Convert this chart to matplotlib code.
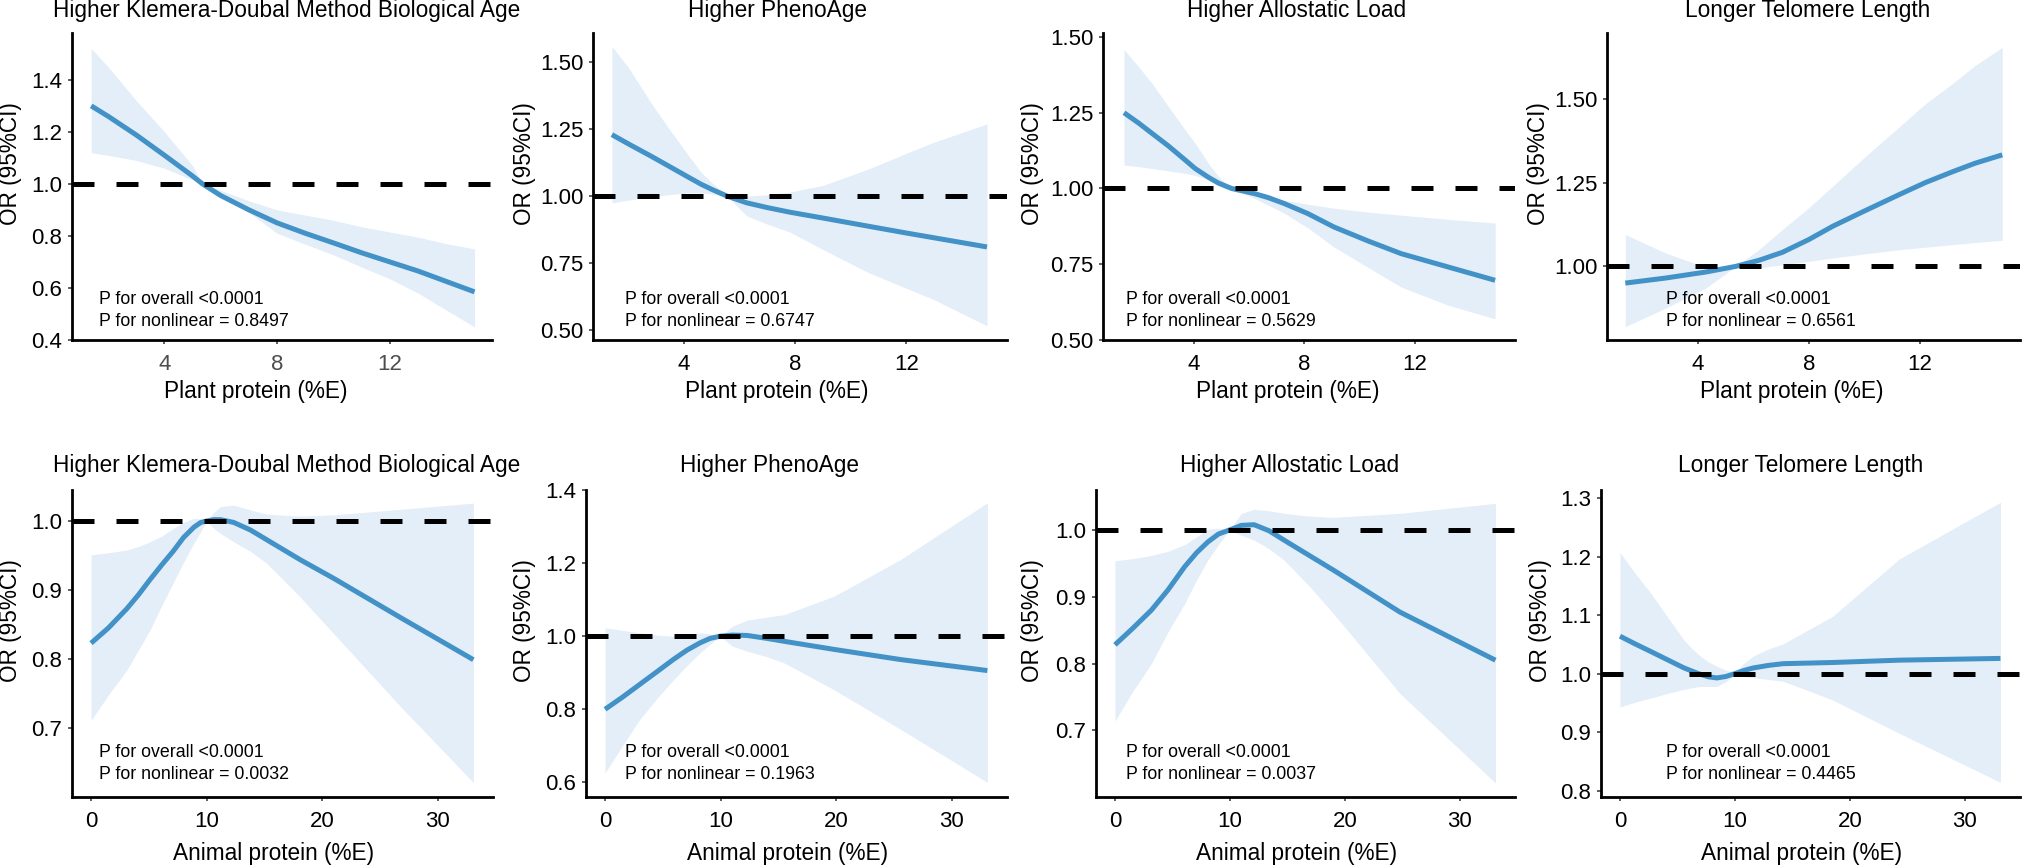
import matplotlib
matplotlib.use("Agg")
import matplotlib.pyplot as plt

plt.rcParams['font.family'] = ['Liberation Sans', 'DejaVu Sans']

# ---------------- data ----------------
titles_top = ["Higher Klemera-Doubal Method Biological Age", "Higher PhenoAge",
              "Higher Allostatic Load", "Longer Telomere Length"]
titles_bottom = titles_top
xlabel_top = "Plant protein (%E)"
xlabel_bottom = "Animal protein (%E)"
ylabel = "OR (95%CI)"

p_overall = ["<0.0001"] * 8
p_nonlinear = ["0.8497", "0.6747", "0.5629", "0.6561",
               "0.0032", "0.1963", "0.0037", "0.4465"]

# Plant protein panels
kdm_plant_x = [1.4, 2, 3, 4, 5, 5.35, 6, 7, 8, 9, 10, 11, 12, 13, 14, 15]
kdm_plant_or = [1.30, 1.26, 1.188, 1.11, 1.03, 1.0, 0.955, 0.90, 0.85, 0.81, 0.773, 0.735, 0.70, 0.665, 0.625, 0.585]
kdm_plant_hi = [1.52, 1.45, 1.32, 1.20, 1.07, 1.0, 0.975, 0.935, 0.90, 0.88, 0.86, 0.835, 0.815, 0.795, 0.77, 0.75]
kdm_plant_lo = [1.12, 1.11, 1.09, 1.06, 1.015, 1.0, 0.951, 0.89, 0.81, 0.768, 0.727, 0.68, 0.635, 0.58, 0.515, 0.45]

pheno_plant_x = [1.4, 2.0, 2.8, 3.4, 4.1, 4.6, 5.0, 5.55, 6.25, 7.0, 7.8, 9.0, 10.6, 12.0, 12.95, 14.9]
pheno_plant_or = [1.23, 1.195, 1.15, 1.115, 1.074, 1.045, 1.025, 1.0, 0.975, 0.957, 0.94, 0.918, 0.888, 0.862, 0.845, 0.81]
pheno_plant_hi = [1.56, 1.48, 1.35, 1.26, 1.16, 1.09, 1.05, 1.0, 1.0, 1.005, 1.015, 1.04, 1.10, 1.16, 1.20, 1.27]
pheno_plant_lo = [0.975, 0.985, 0.998, 1.005, 1.012, 1.012, 1.008, 1.0, 0.926, 0.895, 0.866, 0.80, 0.716, 0.655, 0.615, 0.515]

al_plant_x = [1.48, 2.02, 2.49, 3.09, 3.69, 4.05, 4.53, 4.89, 5.37, 6.2, 6.69, 7.28, 8.13, 9.07, 10.3, 11.5, 13.2, 14.9]
al_plant_or = [1.25, 1.215, 1.182, 1.14, 1.094, 1.066, 1.037, 1.018, 1.0, 0.983, 0.970, 0.95, 0.917, 0.873, 0.827, 0.785, 0.741, 0.697]
al_plant_hi = [1.459, 1.40, 1.347, 1.27, 1.193, 1.15, 1.083, 1.04, 1.0, 0.985, 0.975, 0.961, 0.948, 0.935, 0.922, 0.912, 0.898, 0.886]
al_plant_lo = [1.077, 1.072, 1.066, 1.058, 1.05, 1.043, 1.03, 1.018, 1.0, 0.967, 0.945, 0.918, 0.87, 0.807, 0.74, 0.675, 0.615, 0.57]

tl_plant_x = [1.38, 2.83, 4.28, 5.37, 6.2, 7.05, 8.0, 8.87, 10.0, 11.28, 12.2, 13.2, 14.0, 14.98]
tl_plant_or = [0.95, 0.965, 0.983, 1.0, 1.018, 1.042, 1.08, 1.12, 1.165, 1.215, 1.25, 1.283, 1.308, 1.333]
tl_plant_hi = [1.095, 1.04, 0.997, 1.0, 1.05, 1.11, 1.175, 1.24, 1.325, 1.418, 1.485, 1.547, 1.60, 1.654]
tl_plant_lo = [0.82, 0.875, 0.935, 1.0, 0.995, 1.005, 1.015, 1.025, 1.037, 1.05, 1.057, 1.065, 1.071, 1.078]

# Animal protein panels
kdm_anim_x = [0, 1.5, 3.1, 4.1, 5.1, 6.1, 7.1, 8.0, 8.9, 9.5, 10.0, 10.6, 11.2, 12.35, 13.8, 15.2, 18.1, 21.0, 26.8, 33.1]
kdm_anim_or = [0.823, 0.845, 0.873, 0.893, 0.915, 0.936, 0.956, 0.976, 0.991, 0.998, 1.0, 1.002, 1.002, 0.998, 0.987, 0.973, 0.944, 0.917, 0.860, 0.799]
kdm_anim_hi = [0.951, 0.954, 0.958, 0.963, 0.97, 0.978, 0.989, 0.998, 1.004, 1.003, 1.0, 1.012, 1.021, 1.023, 1.016, 1.01, 1.007, 1.009, 1.017, 1.026]
kdm_anim_lo = [0.711, 0.748, 0.784, 0.813, 0.842, 0.877, 0.91, 0.94, 0.968, 0.985, 1.0, 0.99, 0.982, 0.97, 0.956, 0.939, 0.89, 0.837, 0.731, 0.621]

pheno_anim_x = [0, 1.5, 3.0, 4.5, 5.9, 7.1, 8.24, 9.1, 9.97, 11.0, 12.3, 14.0, 15.5, 19.8, 25.6, 33.1]
pheno_anim_or = [0.80, 0.833, 0.868, 0.903, 0.936, 0.962, 0.982, 0.994, 1.0, 1.003, 1.002, 0.994, 0.986, 0.964, 0.936, 0.906]
pheno_anim_hi = [1.023, 1.016, 1.009, 1.003, 1.0, 1.005, 1.009, 1.006, 1.0, 1.027, 1.044, 1.052, 1.059, 1.109, 1.21, 1.365]
pheno_anim_lo = [0.626, 0.70, 0.772, 0.83, 0.88, 0.92, 0.955, 0.978, 1.0, 0.973, 0.959, 0.944, 0.927, 0.854, 0.745, 0.60]

al_anim_x = [0, 1.5, 3.17, 4.6, 6.06, 7.1, 8.07, 9.0, 9.95, 11.0, 12.1, 13.4, 14.7, 16.8, 19.0, 24.8, 33.1]
al_anim_or = [0.828, 0.852, 0.88, 0.91, 0.945, 0.966, 0.982, 0.994, 1.0, 1.007, 1.008, 0.999, 0.985, 0.963, 0.94, 0.877, 0.805]
al_anim_hi = [0.954, 0.957, 0.962, 0.968, 0.978, 0.99, 1.001, 1.003, 1.0, 1.025, 1.031, 1.029, 1.025, 1.021, 1.019, 1.025, 1.04]
al_anim_lo = [0.714, 0.757, 0.80, 0.847, 0.89, 0.925, 0.955, 0.978, 1.0, 0.992, 0.985, 0.972, 0.955, 0.918, 0.875, 0.755, 0.621]

tl_anim_x = [0, 1.3, 2.66, 4.1, 5.54, 6.3, 6.98, 7.7, 8.43, 9.2, 10.0, 10.8, 11.6, 12.9, 14.2, 18.5, 24.3, 33.1]
tl_anim_or = [1.064, 1.051, 1.038, 1.024, 1.01, 1.004, 0.999, 0.9945, 0.9926, 0.995, 1.0, 1.0055, 1.0097, 1.014, 1.017, 1.019, 1.023, 1.026]
tl_anim_hi = [1.207, 1.172, 1.138, 1.098, 1.058, 1.042, 1.03, 1.02, 1.0126, 1.006, 1.002, 1.018, 1.03, 1.042, 1.051, 1.098, 1.196, 1.293]
tl_anim_lo = [0.943, 0.951, 0.958, 0.966, 0.973, 0.976, 0.978, 0.978, 0.978, 0.986, 0.998, 0.995, 0.993, 0.99, 0.987, 0.955, 0.898, 0.814]

xticks_top = [4, 8, 12]
xticks_bottom = [0, 10, 20, 30]
yticks = [
    [0.4, 0.6, 0.8, 1.0, 1.2, 1.4],
    [0.50, 0.75, 1.00, 1.25, 1.50],
    [0.50, 0.75, 1.00, 1.25, 1.50],
    [1.00, 1.25, 1.50],
    [0.7, 0.8, 0.9, 1.0],
    [0.6, 0.8, 1.0, 1.2, 1.4],
    [0.7, 0.8, 0.9, 1.0],
    [0.8, 0.9, 1.0, 1.1, 1.2, 1.3],
]
ytick_fmt = ["%.1f", "%.2f", "%.2f", "%.2f", "%.1f", "%.1f", "%.1f", "%.1f"]

series = [
    (kdm_plant_x, kdm_plant_or, kdm_plant_lo, kdm_plant_hi),
    (pheno_plant_x, pheno_plant_or, pheno_plant_lo, pheno_plant_hi),
    (al_plant_x, al_plant_or, al_plant_lo, al_plant_hi),
    (tl_plant_x, tl_plant_or, tl_plant_lo, tl_plant_hi),
    (kdm_anim_x, kdm_anim_or, kdm_anim_lo, kdm_anim_hi),
    (pheno_anim_x, pheno_anim_or, pheno_anim_lo, pheno_anim_hi),
    (al_anim_x, al_anim_or, al_anim_lo, al_anim_hi),
    (tl_anim_x, tl_anim_or, tl_anim_lo, tl_anim_hi),
]

# ---------------- layout (pixels) ----------------
W, H = 2022, 865
fig = plt.figure(figsize=(W / 100, H / 100), dpi=100)

def fx(px):
    return px / W

def fy(py):
    return 1 - py / H

axes_px = [  # left, right, top, bottom
    (72, 492, 33, 340), (593, 1007, 33, 340), (1103, 1515, 33, 340), (1607, 2020, 33, 340),
    (72, 493, 490, 797), (586, 1007, 490, 797), (1096, 1515, 490, 797), (1601, 2020, 490, 797),
]
ylims = [(0.40, 1.58), (0.462, 1.61), (0.50, 1.513), (0.78, 1.697),
         (0.60, 1.045), (0.56, 1.40), (0.60, 1.06), (0.789, 1.314)]
xlim_top = (0.72, 15.62)
xlim_bottom = (-1.65, 34.8)

title_cx = [287, 777, 1297, 1808, 287, 770, 1290, 1801]
title_base = [17, 17, 17, 17, 472, 472, 472, 472]
xlab_cx = [256, 777, 1288, 1792, 274, 788, 1297, 1802]
xlab_base = [398, 398, 398, 398, 860, 860, 860, 860]
ylab_cx = [11, 524, 1033, 1539, 11, 524, 1033, 1540]
ylab_cy = [164, 164, 164, 164, 621, 621, 621, 621]
ann_x = [99, 625, 1126, 1666, 99, 625, 1126, 1666]
ann_base1 = [304, 304, 304, 304, 757, 757, 757, 757]
ann_base2 = [326, 326, 326, 326, 779, 779, 779, 779]

LINE = '#4292C8'
FILL = '#E3EEF8'
FS = 16.3
FS_TICK = 16
FS_ANN = 12.8

for i, (x, y, lo, hi) in enumerate(series):
    l, r, t, b = axes_px[i]
    ax = fig.add_axes([fx(l), fy(b), (r - l) / W, (b - t) / H])
    ax.fill_between(x, lo, hi, color=FILL, linewidth=0, zorder=1)
    ax.plot(x, y, color=LINE, lw=3.6, solid_joinstyle='round', solid_capstyle='butt', zorder=2)
    ax.axhline(1.0, color='black', lw=3.6, dashes=(4.4, 4.4), dash_capstyle='butt', zorder=3)
    ax.set_xlim(xlim_top if i < 4 else xlim_bottom)
    ax.set_ylim(ylims[i])
    ax.set_xticks(xticks_top if i < 4 else xticks_bottom)
    ax.set_xticklabels([str(v) for v in (xticks_top if i < 4 else xticks_bottom)])
    ax.set_yticks(yticks[i])
    ax.set_yticklabels([ytick_fmt[i] % v for v in yticks[i]])
    for side in ('top', 'right'):
        ax.spines[side].set_visible(False)
    for side in ('left', 'bottom'):
        ax.spines[side].set_linewidth(2.0)
        ax.spines[side].set_color('black')
    ax.tick_params(axis='both', length=3, width=1.1, color='#333333',
                   labelsize=FS_TICK, labelcolor='black')
    ax.tick_params(axis='y', pad=4)
    ax.tick_params(axis='x', pad=7)
    if i == 0:
        ax.tick_params(axis='x', labelcolor='#4D4D4D')
    ax.set_facecolor('none')

    tl = titles_top[i] if i < 4 else titles_bottom[i - 4]
    fig.text(fx(title_cx[i]), fy(title_base[i]), tl, ha='center', va='baseline', fontsize=FS)
    fig.text(fx(xlab_cx[i]), fy(xlab_base[i]), xlabel_top if i < 4 else xlabel_bottom,
             ha='center', va='baseline', fontsize=FS)
    fig.text(fx(ylab_cx[i]), fy(ylab_cy[i]), ylabel, rotation=90, ha='center', va='center', fontsize=FS)
    fig.text(fx(ann_x[i]), fy(ann_base1[i]), "P for overall " + p_overall[i],
             ha='left', va='baseline', fontsize=FS_ANN)
    fig.text(fx(ann_x[i]), fy(ann_base2[i]), "P for nonlinear = " + p_nonlinear[i],
             ha='left', va='baseline', fontsize=FS_ANN)

fig.savefig("out.png", dpi=100, facecolor='white')
